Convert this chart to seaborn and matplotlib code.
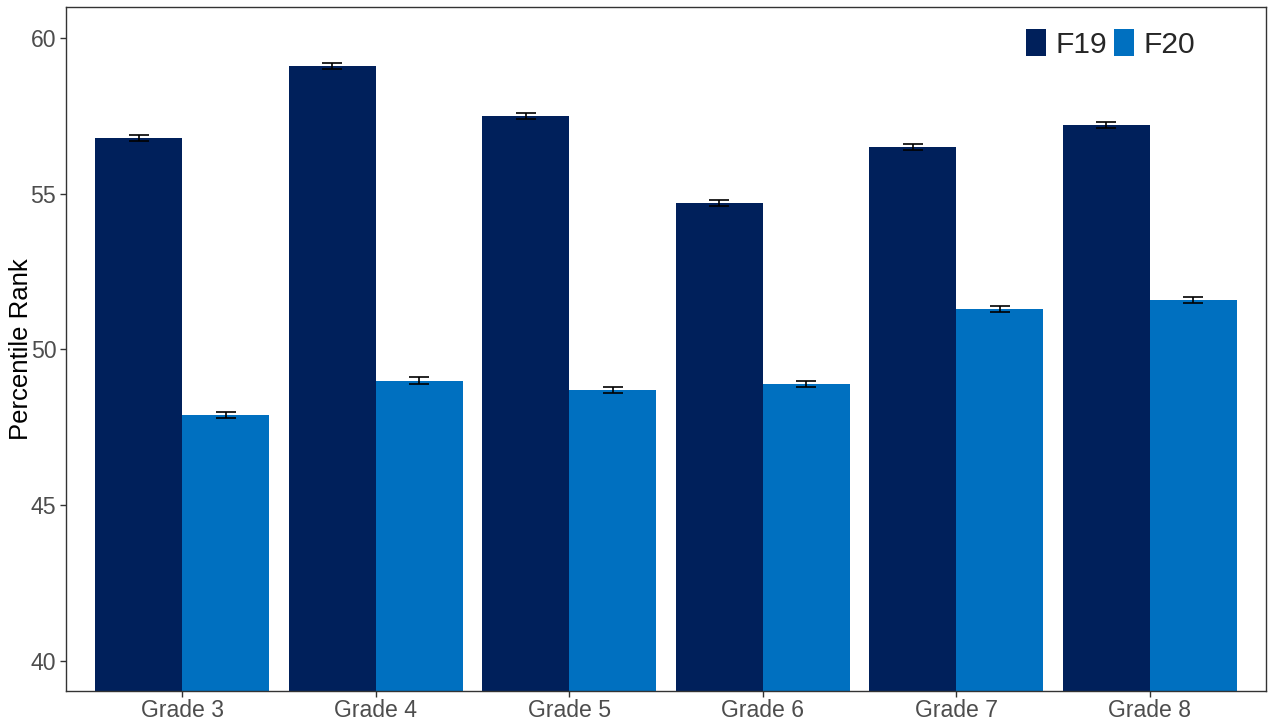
import matplotlib
matplotlib.use("Agg")
import matplotlib.pyplot as plt
import seaborn as sns
import pandas as pd
import numpy as np
from matplotlib.patches import Patch

grades = ["Grade 3", "Grade 4", "Grade 5", "Grade 6", "Grade 7", "Grade 8"]
terms = ["F19", "F20"]
f19 = [56.8, 59.1, 57.5, 54.7, 56.5, 57.2]
f20 = [47.9, 49.0, 48.7, 48.9, 51.3, 51.6]
f19_err = [0.1, 0.1, 0.1, 0.1, 0.1, 0.1]
f20_err = [0.1, 0.1, 0.1, 0.1, 0.1, 0.1]
colors = ["#00205B", "#0070C0"]

df = pd.DataFrame({
    "grade": grades * 2,
    "term": ["F19"] * len(grades) + ["F20"] * len(grades),
    "value": f19 + f20,
    "err": f19_err + f20_err,
})

sns.set_theme(style="white")
plt.rcParams["font.family"] = ["Liberation Sans", "DejaVu Sans"]

fig = plt.figure(figsize=(12.73, 7.27), dpi=100)
ax = fig.add_axes([66/1273, 36/727, 1200/1273, 684/727])

sns.barplot(data=df, x="grade", y="value", hue="term", order=grades,
            hue_order=terms, palette=colors, width=0.9, gap=0,
            errorbar=None, ax=ax, legend=False, linewidth=0, saturation=1)

# error bars at bar centers
for container, term in zip(ax.containers, terms):
    sub = df[df.term == term].set_index("grade").loc[grades]
    xs = [p.get_x() + p.get_width() / 2 for p in container.patches]
    ax.errorbar(xs, sub["value"], yerr=sub["err"], fmt="none",
                ecolor="black", elinewidth=1.2, capsize=7.2, capthick=1.2)

ax.set_ylim(39.03, 61.0)
ax.set_xlim(-0.6, 5.6)
ax.set_yticks([40, 45, 50, 55, 60])
ax.set_xlabel("")
ax.set_ylabel("Percentile Rank", fontsize=18.5, color="black", labelpad=-1.5)
ax.tick_params(axis="both", labelsize=16.6, labelcolor="#4D4D4D", colors="#333333",
               length=4, width=1, direction="out", bottom=True, left=True, pad=3)
ax.tick_params(axis="x", pad=1.5)
for s in ax.spines.values():
    s.set_color("#333333")
    s.set_linewidth(1)

handles = [Patch(facecolor=c, edgecolor="none") for c in colors]
ax.legend(handles, terms, ncol=2, loc="upper left", bbox_to_anchor=((1026 - 66) / 1200, 0.968),
          frameon=False, fontsize=21.6, handlelength=0.68, handleheight=1.0,
          handletextpad=0.3, columnspacing=0.22, borderaxespad=0, borderpad=0)

fig.savefig("out.png", dpi=100)
